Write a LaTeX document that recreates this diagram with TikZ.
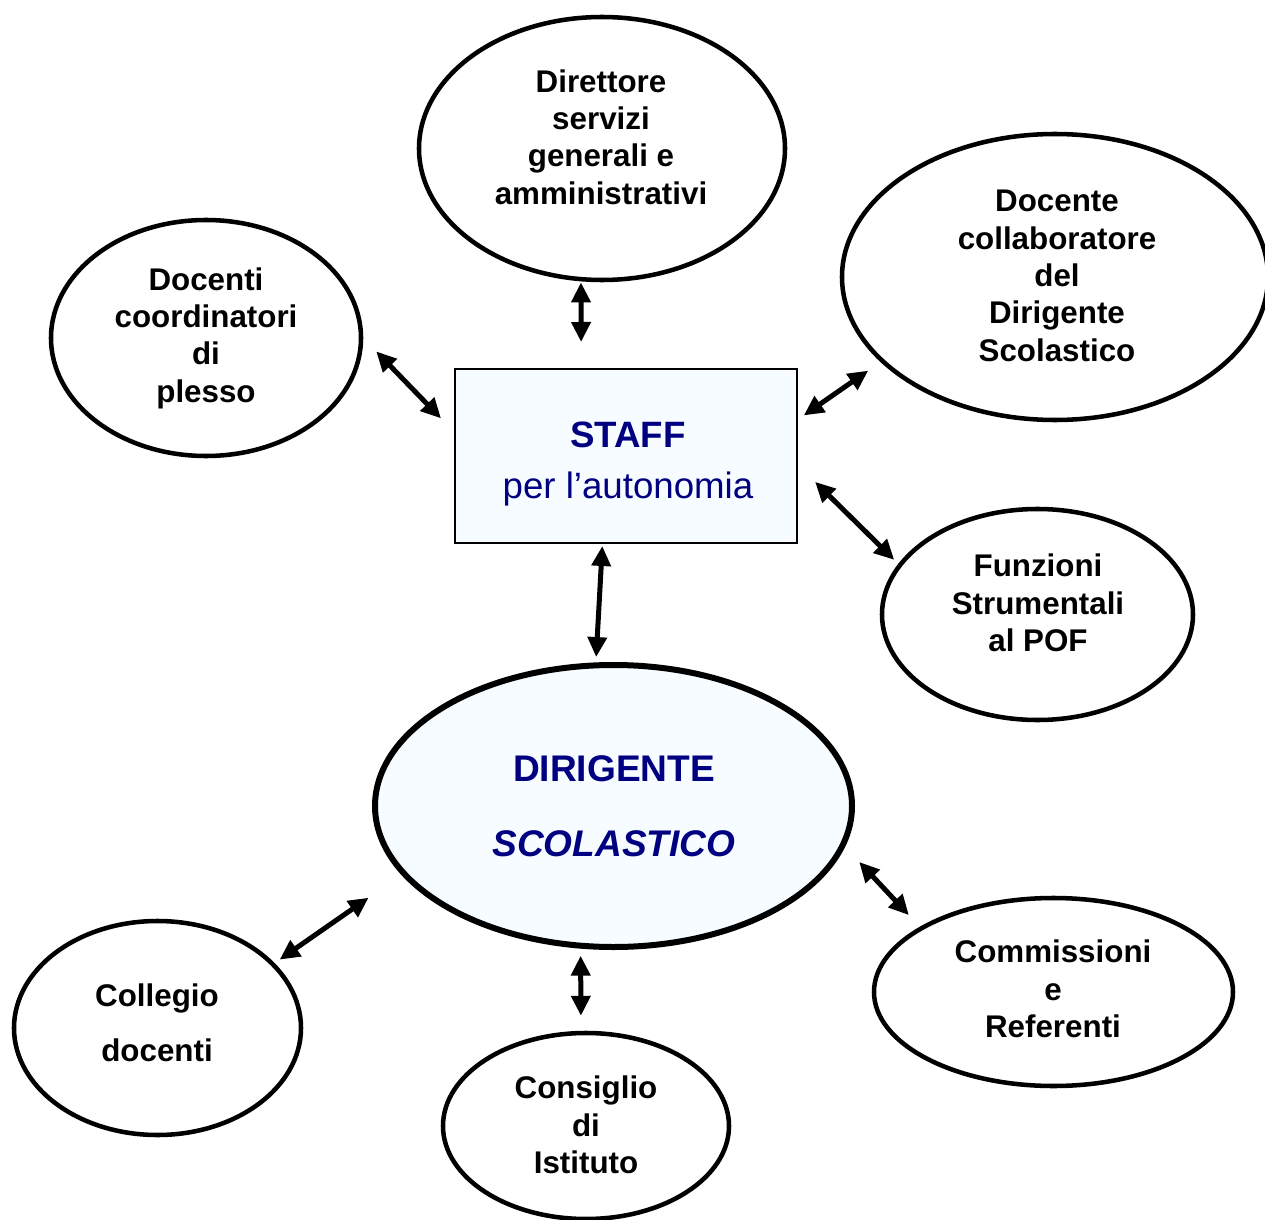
\documentclass[tikz,border=0pt]{standalone}
\usepackage{fontspec}
\setmainfont{Liberation Sans}
\usetikzlibrary{shapes.geometric,arrows.meta}
\definecolor{navy}{RGB}{0,0,128}
\definecolor{paleblue}{RGB}{246,252,255}
\tikzset{
  oval/.style={ellipse, draw, line width=3.4pt, inner sep=0pt},
  lbl/.style={align=center, font=\bfseries\fontsize{23.5}{28}\selectfont},
  arr/.style={{Triangle[length=15pt,width=14pt]}-{Triangle[length=15pt,width=14pt]}, line width=3.75pt},
}
\begin{document}
\begin{tikzpicture}[x=0.75pt,y=-0.75pt]
\useasboundingbox (0,0) rectangle (1265,1220);
% shapes
\node[oval, minimum width=274.5pt, minimum height=197.25pt] (dir) at (602,148.5) {};
\node[oval, minimum width=232.5pt, minimum height=177pt] (coord) at (206,338) {};
\node[oval, minimum width=319.5pt, minimum height=214.5pt] (collab) at (1055,277) {};
\node[oval, minimum width=233.25pt, minimum height=158.25pt] (funz) at (1037.5,614.5) {};
\node[oval, line width=4.5pt, fill=paleblue, minimum width=357.75pt, minimum height=211.5pt] (dirig) at (613.5,806) {};
\node[oval, minimum width=215.25pt, minimum height=160.5pt] (coll) at (157.5,1028) {};
\node[oval, minimum width=214.5pt, minimum height=139.5pt] (cons) at (586,1126) {};
\node[oval, minimum width=269.25pt, minimum height=141pt] (comm) at (1053.5,992) {};
\node[draw, line width=1.5pt, fill=paleblue, minimum width=256.5pt, minimum height=130.5pt, inner sep=0pt] (staff) at (626,456) {};
% texts
\node[lbl] (dirT) at (601,137) {Direttore\\servizi\\generali e\\amministrativi};
\node[lbl] (coordT) at (206,338) {Docenti\\coordinatori\\di\\plesso};
\node[lbl] (collabT) at (1057,276) {Docente\\collaboratore\\del\\Dirigente\\Scolastico};
\node[lbl] (funzT) at (1038,603) {Funzioni\\Strumentali\\al POF};
\node[lbl, font=\bfseries\fontsize{23.5}{41.25}\selectfont] (collT) at (157,1023) {Collegio\\docenti};
\node[lbl] (consT) at (586,1125) {Consiglio\\di\\Istituto};
\node[lbl] (commT) at (1053,989) {Commissioni\\e\\Referenti};
\node[align=center, text=navy, font=\fontsize{27.5}{38.25}\selectfont] (staffT) at (628,464) {\textbf{STAFF}\\per l’autonomia};
\node[align=center, text=navy, font=\bfseries\fontsize{27.8}{56.25}\selectfont] (dirigT) at (614,806) {DIRIGENTE\\\textit{SCOLASTICO}};
% connectors
\draw[arr, shorten <=0.75pt, shorten >=19.5pt] (dir.261) -- (staff.117);
\draw[arr, shorten <=14pt, shorten >=14pt] (coord.east) -- (staff.172);
\draw[arr, shorten <=5.25pt, shorten >=11.25pt] (staff.12.8) -- (collab.206.4);
\draw[arr, shorten <=18pt, shorten >=4.25pt] (staff.357) -- (funz.160.8);
\draw[arr, shorten <=1.5pt, shorten >=4pt] (staff.255.4) -- (dirig.97.7);
\draw[arr, shorten <=30pt, shorten >=4.5pt] (dirig.198.7) -- (coll.29.7);
\draw[arr, shorten <=5.25pt, shorten >=11.25pt] (dirig.257.1) -- (cons.93);
\draw[arr, shorten <=15.5pt, shorten >=12pt] (dirig.350.9) -- (comm.154.5);
\end{tikzpicture}
\end{document}
